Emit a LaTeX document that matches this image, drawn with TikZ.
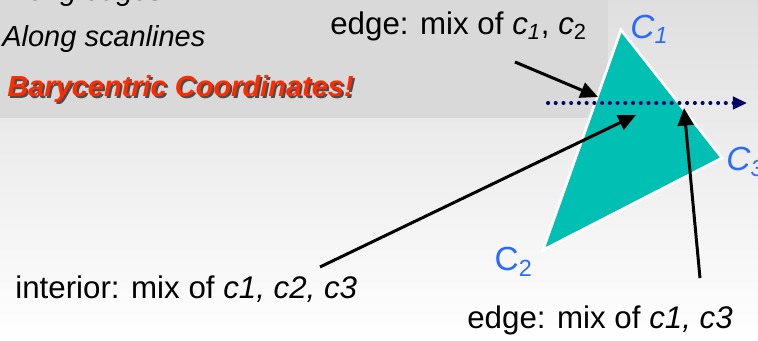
\documentclass[tikz,border=0pt]{standalone}
\usepackage{fontspec}
\setmainfont{Liberation Sans}
\usetikzlibrary{arrows.meta}
\definecolor{bandgray}{HTML}{D9D9D9}
\definecolor{topgray}{HTML}{DFDFDF}
\definecolor{tri}{HTML}{00BFB3}
\definecolor{vblue}{HTML}{2A6BFF}
\definecolor{scan}{HTML}{000066}
\definecolor{hilite}{HTML}{FF2A00}
\begin{document}
\begin{tikzpicture}[x=.02cm,y=-.02cm,
  txt/.style={anchor=base west,inner sep=0pt,font=\fontsize{17.8}{21}\selectfont},
  bul/.style={anchor=base west,inner sep=0pt,font=\fontsize{16.5}{20}\selectfont},
  vlab/.style={inner sep=0pt,text=vblue,font=\fontsize{19}{23}\selectfont},
  ptr/.style={line width=1.7pt,-{Triangle[length=10pt,width=9pt]}}]
\useasboundingbox (0,0) rectangle (758,341);
\clip (0,0) rectangle (758,341);
\shade[top color=topgray,bottom color=white] (0,0) rectangle (758,341);
\fill[bandgray] (0,0) rectangle (608,118);
% bullets of the slide
\node[bul] (edges) at (2,1) {\itshape Along edges};
\node[bul] (scanl) at (2,47) {\itshape Along scanlines};
\node[bul,text=black!70] at (9,99) {\bfseries\itshape Barycentric Coordinates!};
\node[bul,text=hilite] (bary) at (7,97) {\bfseries\itshape Barycentric Coordinates!};
% triangle
\coordinate (c1) at (621,30);
\coordinate (c3) at (722,158);
\coordinate (c2) at (543,250);
\fill[tri,draw=white,line width=1.5pt,line join=miter] (c1) -- (c3) -- (c2) -- cycle;
\node[vlab,anchor=south west] (l1) at (630,44) {\textit{C}\textsubscript{\itshape 1}};
\node[vlab,anchor=west] (l3) at (726,162) {\textit{C}\textsubscript{\itshape 3}};
\node[vlab,anchor=east] (l2) at (533,262) {C\textsubscript{2}};
% scanline
\coordinate (s0) at (548,103);
\coordinate (s1) at (747,103);
\draw[scan,line width=2.3pt,line cap=round,dash pattern=on 0pt off 4.4pt,
  -{Triangle[length=8pt,width=7pt,line cap=butt]}] (s0) -- (s1);
% labels and pointers
\node[txt] (e12) at (330,35) {edge: mix of \textit{c}\textsubscript{\itshape 1}, \textit{c}\textsubscript{2}};
\node[txt] (int) at (15,298) {interior: mix of \textit{c1, c2, c3}};
\node[txt] (e13) at (467,328) {edge: mix of \textit{c1, c3}};
\coordinate (a1) at (515,62);  \coordinate (b1) at (598,97);
\coordinate (a2) at (320,267); \coordinate (b2) at (636,115);
\coordinate (a3) at (700,278); \coordinate (b3) at (684,108);
\draw[ptr] (a1) -- (b1);
\draw[ptr] (a2) -- (b2);
\draw[ptr] (a3) -- (b3);
\end{tikzpicture}
\end{document}
